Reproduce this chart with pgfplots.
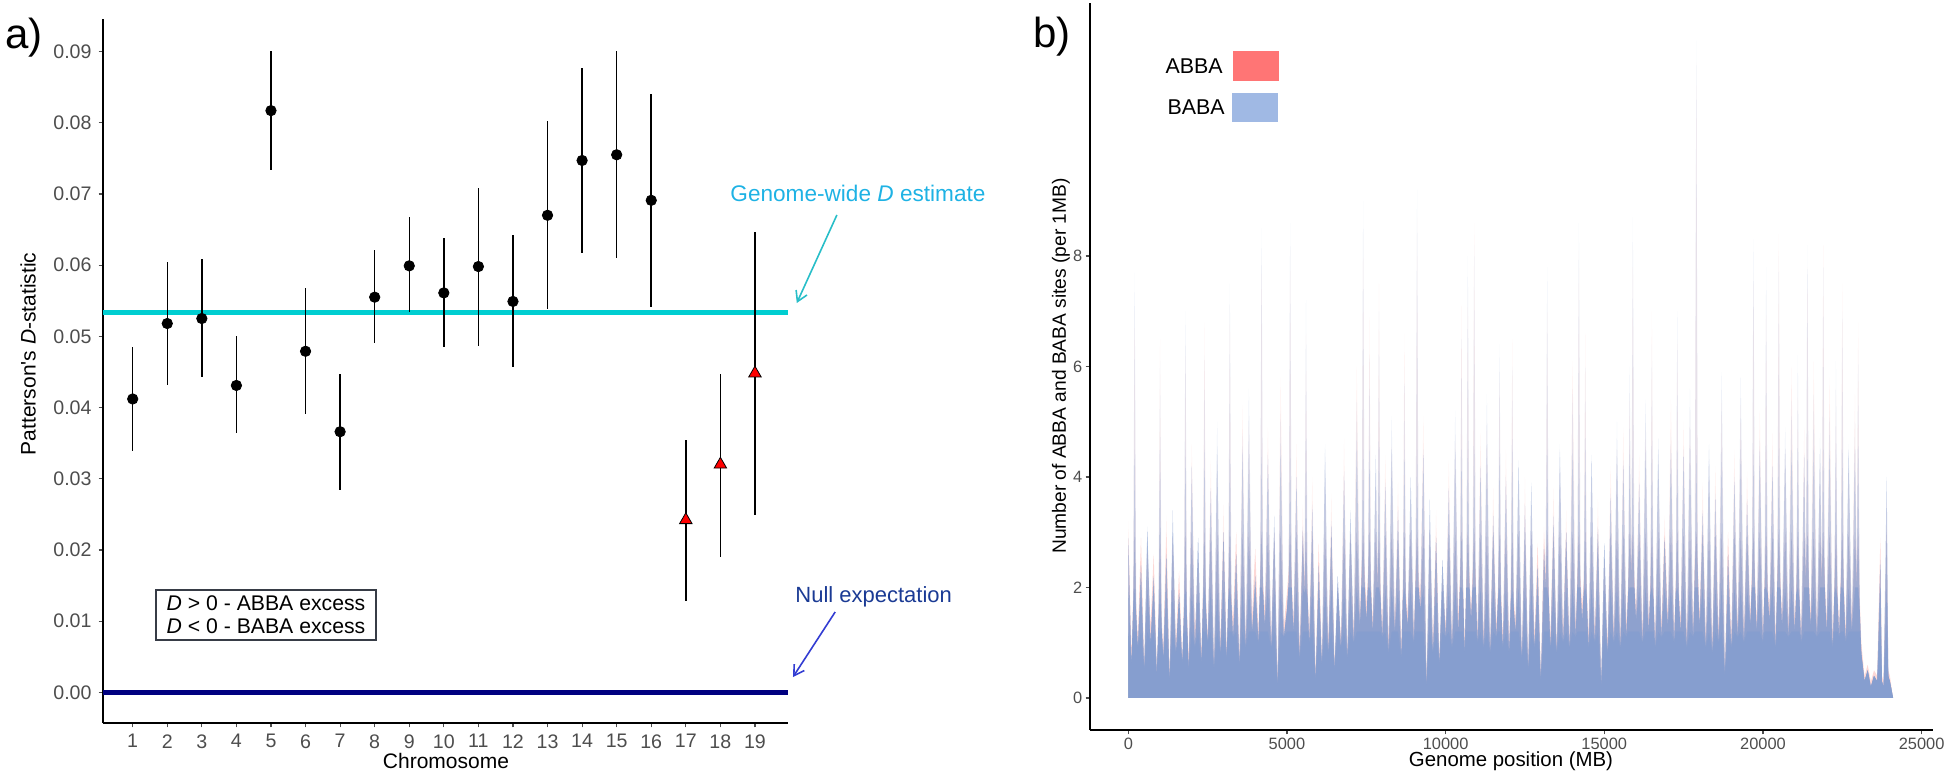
\documentclass[border=0pt]{standalone}
\usepackage{pgfplots}
\usepackage{pgfplotstable}
\pgfplotsset{compat=1.18}
\usepackage{fontspec}
\setmainfont{Liberation Sans}
\usetikzlibrary{arrows.meta}

\definecolor{cyanline}{RGB}{0,206,209}
\definecolor{navyline}{RGB}{0,0,128}
\definecolor{gwtext}{RGB}{30,178,228}
\definecolor{gwarrow}{RGB}{40,190,200}
\definecolor{nulltext}{RGB}{26,58,148}
\definecolor{nullarrow}{RGB}{50,60,210}
\definecolor{tickgray}{RGB}{77,77,77}
\definecolor{babafill}{RGB}{134,158,207}
\definecolor{abbafill}{RGB}{248,118,109}
\definecolor{babaleg}{RGB}{160,185,228}
\definecolor{abbaleg}{RGB}{255,117,117}
\definecolor{boxgray}{RGB}{55,60,70}

\pgfplotstableread{
x y lo hi
1 0.0412 0.0339 0.0485
2 0.0518 0.0431 0.0604
3 0.0525 0.0443 0.0608
4 0.0431 0.0364 0.0500
5 0.0817 0.0734 0.0901
6 0.0479 0.0391 0.0568
7 0.0366 0.0284 0.0447
8 0.0555 0.0491 0.0621
9 0.0599 0.0534 0.0667
10 0.0561 0.0485 0.0638
11 0.0598 0.0487 0.0709
12 0.0549 0.0457 0.0642
13 0.0670 0.0538 0.0802
14 0.0747 0.0617 0.0877
15 0.0755 0.0610 0.0901
16 0.0691 0.0541 0.0841
}\tabcirc

\pgfplotstableread{
x y lo hi
17 0.0242 0.0128 0.0354
18 0.0320 0.0190 0.0447
19 0.0448 0.0249 0.0646
}\tabtri

\pgfplotstableread{
x baba abba
0 2.9 3.2
100 0.6 0.8
150 1.6 1.8
200 7.7 7.0
250 1.5 1.7
300 0.9 1.1
400 2.4 2.9
500 0.5 0.6
600 3.1 2.7
700 1.0 1.3
800 2.2 2.6
900 0.4 0.5
950 1.4 1.6
1000 6.1 6.5
1050 1.3 1.5
1100 0.7 0.9
1200 2.6 3.3
1300 0.3 0.4
1400 3.4 2.9
1500 0.8 1.0
1600 1.9 2.3
1700 0.6 0.7
1750 1.5 1.7
1800 7.0 6.4
1850 1.4 1.6
1900 0.5 0.7
2000 4.2 4.6
2100 0.9 1.2
2200 2.9 2.5
2300 0.6 0.8
2350 1.7 1.9
2400 6.2 6.8
2450 1.6 1.8
2500 1.0 1.1
2600 3.8 4.3
2700 0.5 0.6
2800 5.0 4.4
2900 0.8 1.0
3000 3.0 3.5
3100 0.7 0.8
3150 1.8 2.0
3200 7.5 7.1
3250 1.7 1.9
3300 1.1 1.4
3400 2.6 3.0
3500 0.6 0.7
3600 4.8 5.3
3700 0.9 1.0
3800 5.6 5.1
3900 1.2 1.5
4000 2.2 2.7
4100 1.0 1.2
4150 2.0 2.2
4200 8.5 8.0
4250 1.9 2.1
4300 1.3 1.6
4400 4.4 4.9
4500 0.9 1.0
4600 3.3 3.0
4700 0.2 0.3
4800 5.2 5.8
4900 1.1 1.3
5000 1.6 1.9
5050 2.1 2.3
5100 8.6 8.1
5150 2.0 2.2
5200 1.2 1.4
5300 4.0 4.6
5400 0.7 0.9
5500 3.1 3.5
5550 1.9 2.1
5600 7.2 6.6
5650 1.8 2.0
5700 1.0 1.2
5800 3.5 4.0
5900 0.3 0.4
6000 2.4 2.8
6100 0.6 0.7
6200 4.6 4.1
6300 0.8 1.0
6400 3.2 3.7
6500 0.5 0.6
6600 2.2 2.0
6700 0.9 1.1
6800 4.1 4.7
6900 0.7 0.8
7000 3.4 3.0
7100 1.0 1.2
7200 5.4 6.0
7300 1.3 1.5
7350 2.2 2.4
7400 9.0 8.4
7450 2.1 2.3
7500 1.4 1.7
7550 2.0 2.2
7600 6.2 6.9
7650 1.9 2.1
7700 1.2 1.4
7800 4.4 4.0
7850 2.0 2.2
7900 7.0 7.5
7950 1.8 2.0
8000 1.1 1.3
8100 3.9 4.4
8200 0.8 1.0
8300 5.1 4.6
8400 1.2 1.4
8500 3.4 3.9
8600 0.7 0.9
8650 1.8 2.0
8700 6.0 6.6
8750 1.7 1.9
8800 1.3 1.5
8900 4.0 3.6
9000 1.0 1.2
9050 2.1 2.3
9100 9.2 8.7
9150 2.0 2.2
9200 1.6 1.9
9300 4.5 5.1
9400 0.2 0.3
9500 3.6 3.2
9600 0.8 1.0
9700 2.9 3.4
9800 0.6 0.7
9900 2.5 2.2
10000 1.1 1.3
10100 3.8 4.3
10200 0.9 1.0
10300 5.2 4.7
10400 1.2 1.5
10450 2.0 2.2
10500 6.5 7.1
10550 1.9 2.1
10600 0.8 1.0
10650 2.0 2.2
10700 8.0 7.4
10750 2.1 2.3
10800 1.4 1.6
10850 2.1 2.3
10900 8.2 8.6
10950 2.0 2.2
11000 1.0 1.2
11100 4.2 4.8
11200 0.9 1.1
11300 5.5 5.0
11400 0.8 0.9
11500 3.3 3.8
11600 1.1 1.3
11650 1.8 2.0
11700 6.4 5.9
11750 1.7 1.9
11800 0.9 1.1
11900 4.0 4.5
12000 0.8 1.0
12050 1.7 1.9
12100 6.0 6.5
12150 1.6 1.8
12200 1.2 1.4
12300 4.3 3.9
12400 0.7 0.8
12500 3.5 4.0
12600 0.5 0.6
12700 3.9 3.5
12800 0.9 1.1
12900 2.4 2.8
13000 0.3 0.4
13100 2.7 3.1
13150 2.0 2.2
13200 7.8 7.2
13250 1.8 2.0
13300 0.9 1.1
13400 3.3 3.8
13500 0.8 0.9
13600 4.6 4.2
13700 1.0 1.2
13800 3.0 3.4
13900 0.9 1.0
14000 5.6 6.1
14100 1.1 1.3
14150 2.1 2.3
14200 8.6 8.1
14250 2.0 2.2
14300 1.4 1.7
14350 1.9 2.1
14400 6.0 6.6
14450 1.8 2.0
14500 0.9 1.1
14600 4.4 4.0
14700 1.0 1.2
14800 3.1 3.6
14900 0.2 0.3
15000 2.8 2.5
15100 0.8 1.0
15200 3.7 4.2
15300 1.0 1.2
15400 5.0 4.5
15500 0.9 1.1
15600 4.3 4.9
15700 1.1 1.3
15750 1.9 2.1
15800 6.0 5.5
15850 2.2 2.4
15900 8.7 8.2
15950 2.0 2.2
16000 1.4 1.6
16100 3.9 4.4
16200 1.0 1.2
16300 5.4 4.9
16400 1.2 1.4
16450 1.9 2.1
16500 6.4 7.0
16550 1.8 2.0
16600 0.9 1.1
16700 4.7 4.3
16800 1.1 1.3
16900 2.9 3.3
17000 1.3 1.5
17100 4.8 5.4
17200 1.0 1.2
17250 1.9 2.1
17300 7.0 6.5
17350 1.8 2.0
17400 1.2 1.4
17500 4.5 5.0
17600 0.9 1.1
17700 5.6 5.2
17800 1.1 1.3
17850 2.3 2.5
17900 11.9 11.5
17950 2.2 2.4
18000 1.3 1.5
18100 3.4 3.9
18200 0.9 1.1
18300 4.6 4.2
18400 0.8 1.0
18500 3.7 4.2
18600 1.0 1.2
18700 5.9 5.4
18800 0.4 0.5
18900 2.6 3.0
19000 0.9 1.1
19100 4.0 4.5
19200 1.1 1.3
19300 5.8 5.3
19400 1.0 1.2
19500 3.6 4.1
19600 1.3 1.5
19650 2.1 2.3
19700 8.3 7.7
19750 2.0 2.2
19800 1.2 1.4
19900 4.7 5.2
20000 1.0 1.2
20050 2.0 2.2
20100 7.8 7.3
20150 1.9 2.1
20200 1.4 1.6
20300 4.2 4.8
20400 0.9 1.1
20450 2.1 2.3
20500 8.0 8.4
20550 2.0 2.2
20600 1.3 1.5
20700 4.9 4.5
20800 1.1 1.3
20900 5.4 6.0
21000 1.2 1.4
21050 1.9 2.1
21100 6.2 5.7
21150 1.8 2.0
21200 1.0 1.2
21300 4.4 4.9
21350 2.1 2.3
21400 8.2 7.8
21450 2.0 2.2
21500 1.3 1.5
21600 5.5 6.1
21700 1.1 1.3
21800 4.8 4.4
21850 2.1 2.3
21900 7.8 8.2
21950 2.0 2.2
22000 1.2 1.4
22100 5.2 5.8
22200 0.9 1.1
22250 1.9 2.1
22300 6.1 5.6
22350 1.8 2.0
22400 1.1 1.3
22450 2.0 2.2
22500 7.0 7.5
22550 1.9 2.1
22600 1.0 1.2
22700 4.6 4.2
22800 1.2 1.4
22900 5.0 5.5
22950 2.0 2.2
23000 6.3 6.8
23050 1.6 1.8
23100 0.8 1.0
23200 0.3 0.4
23300 0.5 0.6
23400 0.2 0.3
23500 0.4 0.5
23600 0.3 0.4
23700 2.5 2.9
23750 0.3 0.4
23800 0.2 0.3
23900 4.0 3.6
23950 0.4 0.5
24000 0.3 0.4
24100 0.0 0.0
}\tabb

\begin{document}
\begin{tikzpicture}
\useasboundingbox (0,0) rectangle (972pt,386.5pt);

% panel labels and axis titles
\node[font=\fontsize{21}{24}\selectfont, inner sep=0] at (12pt,367.5pt) {a)};
\node[font=\fontsize{21}{24}\selectfont, inner sep=0] at (526pt,368pt) {b)};
\node[rotate=90, font=\fontsize{10.5}{12}\selectfont, inner sep=0] at (14pt,209.5pt) {Patterson\textquotesingle s \textit{D}-statistic};
\node[font=\fontsize{10.5}{12}\selectfont, inner sep=0] at (223pt,6pt) {Chromosome};
\node[rotate=90, font=\fontsize{9.6}{11}\selectfont, inner sep=0] at (530.5pt,203.5pt) {Number of ABBA and BABA sites (per 1MB)};
\node[font=\fontsize{10.2}{12}\selectfont, inner sep=0] at (755.5pt,6pt) {Genome position (MB)};

% ---------------- panel a ----------------
\begin{axis}[
  at={(51.5pt,25pt)}, anchor=south west, scale only axis,
  width=342.5pt, height=352pt,
  xmin=0.141, xmax=19.956, ymin=-0.00431, ymax=0.09457,
  axis x line*=bottom, axis y line*=left,
  axis line style={-, black, line width=1pt},
  xtick={1,2,3,4,5,6,7,8,9,10,11,12,13,14,15,16,17,18,19},
  ytick={0,0.01,0.02,0.03,0.04,0.05,0.06,0.07,0.08,0.09},
  scaled y ticks=false,
  yticklabel style={/pgf/number format/.cd, fixed, fixed zerofill, precision=2},
  /pgf/number format/assume math mode=true,
  tick align=outside, major tick length=2.2pt,
  tick style={tickgray, line width=0.6pt},
  tick label style={font=\fontsize{9.8}{11}\selectfont, text=tickgray},
  clip=false,
]
\addplot[cyanline, line width=2.5pt] coordinates {(0.141,0.0533) (19.956,0.0533)};
\addplot[navyline, line width=2.5pt] coordinates {(0.141,0) (19.956,0)};

\addplot[only marks, mark=*, mark size=2.6pt, black,
  error bars/.cd, y dir=both, y explicit, error mark=none,
  error bar style={line width=0.75pt, black}]
  table[x=x, y=y, y error plus expr=\thisrow{hi}-\thisrow{y}, y error minus expr=\thisrow{y}-\thisrow{lo}] {\tabcirc};

\addplot[only marks, mark=triangle*, mark size=3.6pt,
  mark options={fill=red, draw=black, line width=0.4pt},
  error bars/.cd, y dir=both, y explicit, error mark=none,
  error bar style={line width=0.75pt, black}]
  table[x=x, y=y, y error plus expr=\thisrow{hi}-\thisrow{y}, y error minus expr=\thisrow{y}-\thisrow{lo}] {\tabtri};

\node[anchor=west, inner sep=0, text=gwtext, font=\fontsize{11.3}{13}\selectfont] at (axis cs:18.28,0.0701) {Genome-wide \textit{D} estimate};
\draw[gwarrow, line width=0.8pt, -{Straight Barb[length=5pt, width=6pt]}] (axis cs:21.37,0.06704) -- (axis cs:20.21,0.05468);
\node[anchor=west, inner sep=0, text=nulltext, font=\fontsize{11}{13}\selectfont] at (axis cs:20.16,0.01338) {Null expectation};
\draw[nullarrow, line width=0.8pt, -{Straight Barb[length=5pt, width=6pt]}] (axis cs:21.32,0.01128) -- (axis cs:20.10,0.00215);

\node[draw=boxgray, line width=1pt, fill=white, align=left, inner xsep=5.5pt, inner ysep=3pt,
  font=\fontsize{10.6}{11.5}\selectfont] at (axis cs:4.856,0.01086)
  {\textit{D} > 0 - ABBA excess\\\textit{D} < 0 - BABA excess};
\end{axis}

% ---------------- panel b ----------------
\begin{axis}[
  at={(545pt,21.5pt)}, anchor=south west, scale only axis,
  width=421.5pt, height=363.5pt,
  xmin=-1207, xmax=25359, ymin=-0.58, ymax=12.58,
  axis x line*=bottom, axis y line*=left,
  axis line style={-, black, line width=1pt},
  xtick={0,5000,10000,15000,20000,25000},
  ytick={0,2,4,6,8},
  scaled x ticks=false,
  xticklabel style={/pgf/number format/.cd, 1000 sep={}},
  /pgf/number format/assume math mode=true,
  tick align=outside, major tick length=2.2pt,
  tick style={tickgray, line width=0.6pt},
  tick label style={font=\fontsize{8.2}{10}\selectfont, text=tickgray, inner sep=1.5pt},
]
% ABBA (behind), faded by stacking clamped layers
\addplot[draw=none, fill=abbafill, fill opacity=0.2, restrict y to domain*=0:3] table[x=x, y=abba] {\tabb} \closedcycle;
\addplot[draw=none, fill=abbafill, fill opacity=0.1] table[x=x, y=abba] {\tabb} \closedcycle;
% BABA (front), faded upward by stacking clamped layers
\addplot[draw=none, fill=babafill, fill opacity=1, restrict y to domain*=0:1.2] table[x=x, y=baba] {\tabb} \closedcycle;
\addplot[draw=none, fill=babafill, fill opacity=0.7, restrict y to domain*=0:2.0] table[x=x, y=baba] {\tabb} \closedcycle;
\addplot[draw=none, fill=babafill, fill opacity=0.5, restrict y to domain*=0:3.0] table[x=x, y=baba] {\tabb} \closedcycle;
\addplot[draw=none, fill=babafill, fill opacity=0.35, restrict y to domain*=0:4.5] table[x=x, y=baba] {\tabb} \closedcycle;
\addplot[draw=none, fill=babafill, fill opacity=0.2] table[x=x, y=baba] {\tabb} \closedcycle;

\fill[abbaleg] (axis cs:3301,11.17) rectangle (axis cs:4752,11.71);
\fill[babaleg] (axis cs:3270,10.43) rectangle (axis cs:4720,10.95);
\node[anchor=east, inner sep=0, font=\fontsize{10.7}{12}\selectfont] at (axis cs:2985,11.44) {ABBA};
\node[anchor=east, inner sep=0, font=\fontsize{10.7}{12}\selectfont] at (axis cs:3049,10.69) {BABA};
\end{axis}
\end{tikzpicture}
\end{document}
